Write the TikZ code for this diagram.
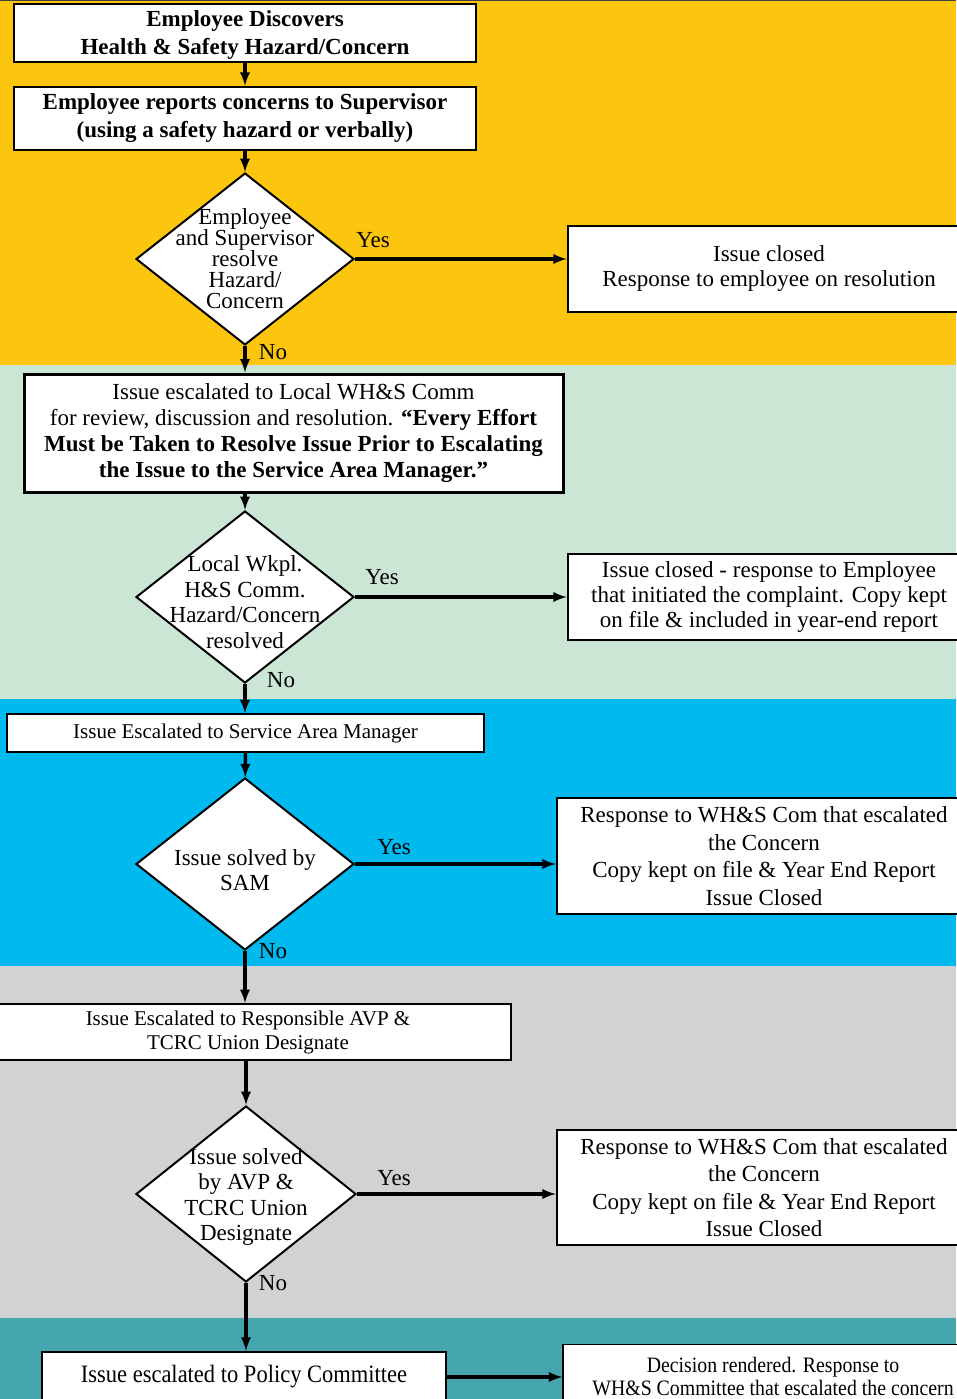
\documentclass[tikz,border=0pt]{standalone}
\usepackage{fontspec}
\setmainfont{Liberation Serif}
\newfontfamily\narrowserif{Liberation Serif}[FakeStretch=0.9]
\usetikzlibrary{shapes.geometric}
\definecolor{bandyellow}{HTML}{FDC60E}
\definecolor{bandgreen}{HTML}{CBE6D5}
\definecolor{bandblue}{HTML}{00B9EF}
\definecolor{bandgray}{HTML}{D0D2D4}
\definecolor{bandteal}{HTML}{46A6B0}
\newcommand\bodysize{\fontsize{23}{25}\selectfont}
\begin{document}
\begin{tikzpicture}
[x=1pt, y=-1pt, >=latex,
 nodes={align=center, inner sep=0pt, font=\bodysize},
 box/.style={draw=black, fill=white, line width=2.5pt},
 decision/.style={diamond, draw=black, fill=white, line width=2pt, minimum width=218pt, minimum height=172pt},
 flow/.style={->, draw=black, line width=3.5pt},
 answer/.style={anchor=center}]
\useasboundingbox (0,0) rectangle (956,1399);
% colour bands
\fill[bandyellow] (0,0) rectangle (956,365);
\fill[bandgreen] (0,365) rectangle (956,699);
\fill[bandblue] (0,699) rectangle (956,966);
\fill[bandgray] (0,966) rectangle (956,1318);
\fill[bandteal] (0,1318) rectangle (956,1399);
\draw[line width=2pt, black!75] (0,0) -- (956,0);

% supervisor level
\node (discover) at (245,33) [box, minimum width=462pt, minimum height=58pt, font=\bfseries\fontsize{23}{28}\selectfont]
  {\strut Employee Discovers\\Health \& Safety Hazard/Concern};
\node (report) at (245,118.5) [box, minimum width=462pt, minimum height=63pt, font=\bfseries\fontsize{23}{28}\selectfont]
  {Employee reports concerns to Supervisor\\(using a safety hazard or verbally)};
\node (supdec) at (245,259) [decision, label={[font=\fontsize{23}{21}\selectfont]center:Employee\\and Supervisor\\resolve\\Hazard/\\Concern}] {};
\node (supclosed) at (769,269) [box, minimum width=402pt, minimum height=86pt]
  {Issue closed\\Response to employee on resolution};
\draw[flow] (discover) -- (report);
\draw[flow] (report) -- (supdec);
\draw[flow] (supdec.east) -- (supdec.east -| supclosed.west);
\node (supyes) at (373,240) [answer] {Yes};
\node (supno) at (273,352) [answer] {No};

% local committee level
\node (local) at (293.5,433) [box, line width=3pt, minimum width=539pt, minimum height=118pt, font=\fontsize{23}{26}\selectfont]
  {Issue escalated to Local WH\&S Comm\\for review, discussion and resolution. \textbf{``Every Effort}\\\textbf{Must be Taken to Resolve Issue Prior to Escalating}\\\textbf{the Issue to the Service Area Manager.''}};
\node (localdec) at (245,597) [decision, label={[font=\fontsize{23}{25.5}\selectfont, yshift=-5pt]center:Local Wkpl.\\H\&S Comm.\\Hazard/Concern\\resolved}] {};
\node (localclosed) at (769,597) [box, minimum width=402pt, minimum height=86pt]
  {Issue closed - response to Employee\\that initiated the complaint. Copy kept\\on file \& included in year-end report};
\draw[flow] (supdec) -- (supdec |- local.north);
\draw[flow] (local.south -| localdec.north) -- (localdec);
\draw[flow] (localdec.east) -- (localdec.east -| localclosed.west);
\node (localyes) at (382,577) [answer] {Yes};
\node (localno) at (281,680) [answer] {No};

% service area manager level
\node (sam) at (245.5,733) [box, line width=1.5pt, minimum width=477pt, minimum height=38pt, font=\fontsize{21}{24}\selectfont]
  {Issue Escalated to Service Area Manager};
\node (samdec) at (245,864) [decision, label={[yshift=-6pt]center:Issue solved by\\SAM}] {};
\node (samresp) at (764,856) [box, minimum width=414pt, minimum height=116pt, font=\fontsize{23}{27.5}\selectfont]
  {Response to WH\&S Com that escalated\\the Concern\\Copy kept on file \& Year End Report\\Issue Closed};
\draw[flow] (localdec) -- (localdec |- sam.north);
\draw[flow] (sam) -- (samdec);
\draw[flow] (samdec.east) -- (samdec.east -| samresp.west);
\node (samyes) at (394,847) [answer] {Yes};
\node (samno) at (273,951) [answer] {No};

% AVP and union level
\node (avp) at (248,1032) [box, line width=2pt, minimum width=526pt, minimum height=56pt, font=\fontsize{21}{24}\selectfont]
  {Issue Escalated to Responsible AVP \&\\TCRC Union Designate};
\node (avpdec) at (246,1194) [decision, minimum width=220pt, minimum height=176pt, label={[font=\fontsize{23}{25.5}\selectfont, yshift=-3pt]center:Issue solved\\by AVP \&\\TCRC Union\\Designate}] {};
\node (avpresp) at (764,1187.5) [box, minimum width=414pt, minimum height=115pt, font=\fontsize{23}{27.5}\selectfont]
  {Response to WH\&S Com that escalated\\the Concern\\Copy kept on file \& Year End Report\\Issue Closed};
\draw[flow] (samdec) -- (samdec |- avp.north);
\draw[flow] (avp.south -| avpdec.north) -- (avpdec);
\draw[flow] (avpdec.east) -- (avpdec.east -| avpresp.west);
\node (avpyes) at (394,1178) [answer] {Yes};
\node (avpno) at (273,1283) [answer] {No};

% policy committee level
\node (policy) at (244,1377) [box, minimum width=404pt, minimum height=50pt, font=\narrowserif\fontsize{25}{27}\selectfont]
  {Issue escalated to Policy Committee};
\node (ruling) at (773,1377) [box, line width=1.5pt, minimum width=420pt, minimum height=65pt, font=\narrowserif\fontsize{22}{23}\selectfont]
  {Decision rendered. Response to\\WH\&S Committee that escalated the concern};
\draw[flow] (avpdec) -- (avpdec |- policy.north);
\draw[flow] (policy.east) -- (policy.east -| ruling.west);
\end{tikzpicture}
\end{document}
